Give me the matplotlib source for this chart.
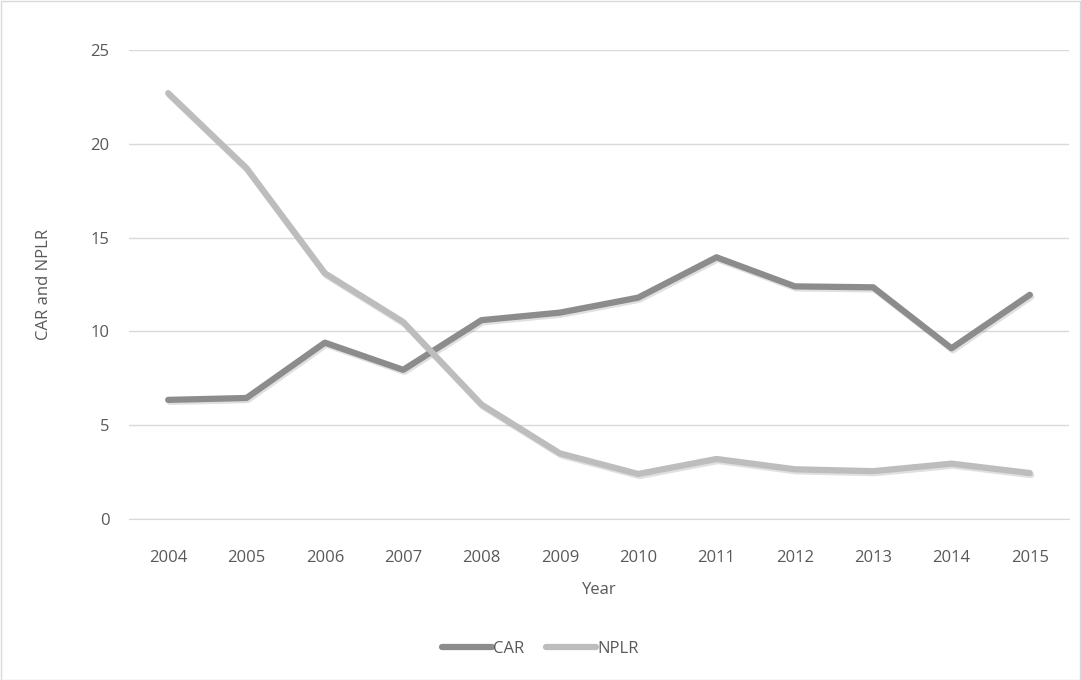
import numpy as np
import matplotlib
matplotlib.use('Agg')
import matplotlib.pyplot as plt
import matplotlib.patheffects as pe

years = ["2004", "2005", "2006", "2007", "2008", "2009",
         "2010", "2011", "2012", "2013", "2014", "2015"]
car  = [6.35, 6.45, 9.4, 7.95, 10.6, 11.0, 11.8, 13.95, 12.4, 12.35, 9.1, 11.95]
nplr = [22.7, 18.7, 13.1, 10.5, 6.1, 3.5, 2.4, 3.2, 2.65, 2.55, 2.95, 2.45]

plt.rcParams['font.family'] = ['Open Sans', 'DejaVu Sans']
TXT = '#595959'
FS = 12

W, H = 1081, 680
fig = plt.figure(figsize=(W / 100, H / 100), dpi=100)
ax = fig.add_axes([129 / W, 1 - 519 / H, 940 / W, 469 / H])

x = np.arange(len(years))
shadow = [pe.SimpleLineShadow(offset=(1, -1.5), shadow_color='k', alpha=0.12), pe.Normal()]
ax.plot(x, car, color='#8c8c8c', lw=4.5, solid_capstyle='round',
        solid_joinstyle='round', label='CAR', path_effects=shadow, zorder=3)
ax.plot(x, nplr, color='#bdbdbd', lw=4.5, solid_capstyle='round',
        solid_joinstyle='round', label='NPLR', path_effects=shadow, zorder=3)

ax.set_xlim(-0.5, len(years) - 0.5)
ax.set_ylim(0, 25)
ax.set_yticks(range(0, 26, 5))
ax.set_xticks(x)
ax.set_xticklabels(years)
ax.grid(axis='y', color='#d9d9d9', lw=1)
ax.set_axisbelow(True)
for s in ['top', 'right', 'left']:
    ax.spines[s].set_visible(False)
ax.spines['bottom'].set_color('#d9d9d9')
ax.tick_params(length=0, labelsize=FS, colors=TXT)
ax.tick_params(axis='x', pad=22)
ax.tick_params(axis='y', pad=14)

ax.set_xlabel('Year', fontsize=FS, color=TXT, labelpad=12)
ax.set_ylabel('CAR and NPLR', fontsize=FS, color=TXT, labelpad=28)

leg = fig.legend(loc='center', bbox_to_anchor=(0.5, 1 - 649 / H), ncol=2,
                 frameon=False, fontsize=FS, handlelength=3.0,
                 handletextpad=0.05, columnspacing=1.3)
for t in leg.get_texts():
    t.set_color(TXT)
for h in leg.legend_handles:
    h.set_path_effects([])
    h.set_solid_capstyle('round')

# chart border
fig.patches.append(plt.Rectangle((0.5 / W, 0.5 / H), 1 - 1.5 / W, 1 - 1.5 / H,
                                 transform=fig.transFigure, fill=False,
                                 edgecolor='#d9d9d9', lw=1))

fig.savefig('out.png', dpi=100)
